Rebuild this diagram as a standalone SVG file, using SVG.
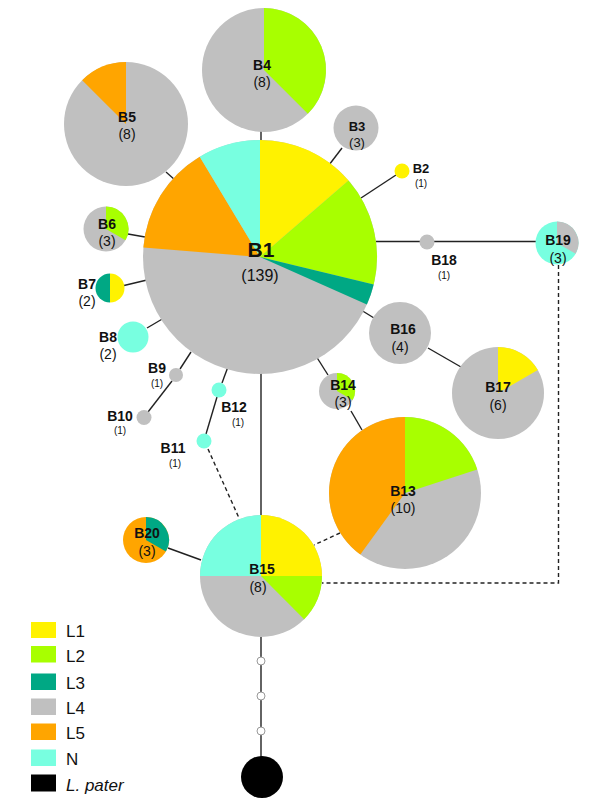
<svg xmlns="http://www.w3.org/2000/svg" width="600" height="803" viewBox="0 0 600 803">
<style>
.y{fill:#FFF200}.g{fill:#A8FF00}.t{fill:#00A884}.s{fill:#C0C0C0}.o{fill:#FFA500}.c{fill:#78FFE0}.k{fill:#000}
.ln{stroke:#222;stroke-width:1.4;fill:none}
.ds{stroke:#222;stroke-width:1.4;fill:none;stroke-dasharray:4,3}
text{font-family:"Liberation Sans",Arial,sans-serif;fill:#111;text-anchor:middle}
.n{font-weight:bold;font-size:14px}
.m{font-size:14px}
.sm{font-size:10px}
.lg{font-size:17px;text-anchor:start}
</style>
<rect width="600" height="803" fill="#fff"/>
<g id="connectors">
<line class="ln" x1="261" y1="131" x2="261" y2="141"/>
<line class="ln" x1="166" y1="172" x2="175" y2="180"/>
<line class="ln" x1="342" y1="148" x2="329" y2="165"/>
<line class="ln" x1="396" y1="175" x2="361" y2="198"/>
<line class="ln" x1="376" y1="241.5" x2="536" y2="241.5"/>
<line class="ln" x1="128" y1="234" x2="145" y2="237"/>
<line class="ln" x1="124" y1="285.5" x2="147" y2="280"/>
<line class="ln" x1="147" y1="328" x2="164" y2="318"/>
<line class="ln" x1="191" y1="352" x2="180" y2="369"/>
<line class="ln" x1="172" y1="381" x2="148" y2="412"/>
<line class="ln" x1="229" y1="364" x2="222" y2="383"/>
<line class="ln" x1="217" y1="397" x2="206" y2="434"/>
<line class="ln" x1="316" y1="356" x2="328" y2="375"/>
<line class="ln" x1="351" y1="411" x2="362" y2="430"/>
<line class="ln" x1="361" y1="310" x2="374" y2="318"/>
<line class="ln" x1="428" y1="348" x2="461" y2="367"/>
<line class="ln" x1="261" y1="373" x2="261" y2="515"/>
<line class="ln" x1="168" y1="548" x2="201" y2="560"/>
<line class="ln" x1="261" y1="637" x2="261" y2="757"/>
<line class="ds" x1="208" y1="449" x2="239" y2="518"/>
<line class="ds" x1="340" y1="533" x2="314" y2="545"/>
<polyline class="ds" points="558.5,265 558.5,583 322,583"/>
</g>
<g id="B1">
<circle class="s" cx="260" cy="257" r="117"/>
<path class="y" d="M260,257 L260,140 A117,117 0 0 1 348.57,180.55 Z"/>
<path class="g" d="M260,257 L348.57,180.55 A117,117 0 0 1 373.72,284.51 Z"/>
<path class="t" d="M260,257 L373.72,284.51 A117,117 0 0 1 366.88,304.58 Z"/>
<path class="o" d="M260,257 L143.38,247.62 A117,117 0 0 1 199.74,156.71 Z"/>
<path class="c" d="M260,257 L199.74,156.71 A117,117 0 0 1 260,140 Z"/>
<text x="261" y="257" style="font-weight:bold;font-size:21px">B1</text>
<text x="260" y="281" style="font-size:16px">(139)</text>
</g>
<g id="B2">
<circle class="y" cx="402" cy="171" r="7.5"/>
<text class="n" x="421" y="172.5" style="font-size:13px">B2</text>
<text class="sm" x="421" y="187">(1)</text>
</g>
<g id="B3">
<circle class="s" cx="356" cy="128" r="22.5"/>
<text class="n" x="357" y="131" style="font-size:13px">B3</text>
<text class="m" x="357" y="147" style="font-size:13px">(3)</text>
</g>
<g id="B4">
<circle class="s" cx="264" cy="70" r="62"/>
<path class="g" d="M264,70 L264,8 A62,62 0 0 1 307.84,113.84 Z"/>
<text class="n" x="262" y="70">B4</text>
<text class="m" x="262" y="87">(8)</text>
</g>
<g id="B5">
<circle class="s" cx="126" cy="124" r="62"/>
<path class="o" d="M126,124 L82.16,80.16 A62,62 0 0 1 126,62 Z"/>
<text class="n" x="127" y="122">B5</text>
<text class="m" x="127" y="139">(8)</text>
</g>
<g id="B6">
<circle class="s" cx="106" cy="229" r="22.5"/>
<path class="g" d="M106,229 L106,206.5 A22.5,22.5 0 0 1 125.49,240.25 Z"/>
<text class="n" x="107" y="229">B6</text>
<text class="m" x="107" y="246">(3)</text>
</g>
<g id="B7">
<path class="t" d="M110,273.5 A14.5,14.5 0 0 0 110,302.5 Z"/>
<path class="y" d="M110,273.5 A14.5,14.5 0 0 1 110,302.5 Z"/>
<text class="n" x="87" y="289">B7</text>
<text class="m" x="87" y="306">(2)</text>
</g>
<g id="B8">
<circle class="c" cx="133" cy="337" r="15.5"/>
<text class="n" x="108" y="341.5">B8</text>
<text class="m" x="108" y="358.5">(2)</text>
</g>
<g id="B9">
<circle class="s" cx="176" cy="375" r="7"/>
<text class="n" x="157" y="372.5">B9</text>
<text class="sm" x="157" y="387">(1)</text>
</g>
<g id="B10">
<circle class="s" cx="144" cy="417.5" r="7.5"/>
<text class="n" x="120" y="421">B10</text>
<text class="sm" x="120" y="434">(1)</text>
</g>
<g id="B11">
<circle class="c" cx="204" cy="441" r="7.5"/>
<text class="n" x="173" y="453">B11</text>
<text class="sm" x="175" y="467">(1)</text>
</g>
<g id="B12">
<circle class="c" cx="219" cy="390" r="7.5"/>
<text class="n" x="234" y="411.5">B12</text>
<text class="sm" x="238" y="426">(1)</text>
</g>
<g id="B13">
<circle class="s" cx="405" cy="493" r="76"/>
<path class="g" d="M405,493 L405,417 A76,76 0 0 1 477.28,469.52 Z"/>
<path class="o" d="M405,493 L360.33,554.48 A76,76 0 0 1 405,417 Z"/>
<text class="n" x="403" y="495.5">B13</text>
<text class="m" x="403" y="512.5">(10)</text>
</g>
<g id="B14">
<circle class="s" cx="337" cy="391" r="18"/>
<path class="g" d="M337,391 L337,373 A18,18 0 0 1 352.59,400 Z"/>
<text class="n" x="343" y="390">B14</text>
<text class="m" x="343" y="407">(3)</text>
</g>
<g id="B15">
<circle class="s" cx="261" cy="576" r="61"/>
<path class="y" d="M261,576 L261,515 A61,61 0 0 1 322,576 Z"/>
<path class="g" d="M261,576 L322,576 A61,61 0 0 1 304.13,619.13 Z"/>
<path class="c" d="M261,576 L200,576 A61,61 0 0 1 261,515 Z"/>
<text class="n" x="262" y="574">B15</text>
<text class="m" x="258" y="591.5">(8)</text>
</g>
<g id="B16">
<circle class="s" cx="400" cy="333" r="31"/>
<text class="n" x="403" y="334">B16</text>
<text class="m" x="400" y="351.5">(4)</text>
</g>
<g id="B17">
<circle class="s" cx="498" cy="393" r="46"/>
<path class="y" d="M498,393 L498,347 A46,46 0 0 1 537.84,370 Z"/>
<text class="n" x="498" y="392">B17</text>
<text class="m" x="498" y="409.5">(6)</text>
</g>
<g id="B18">
<circle class="s" cx="427" cy="242" r="7.5"/>
<text class="n" x="444" y="265">B18</text>
<text class="sm" x="444" y="279">(1)</text>
</g>
<g id="B19">
<circle class="c" cx="557" cy="243" r="21.5"/>
<path class="s" d="M557,243 L557,221.5 A21.5,21.5 0 0 1 575.62,253.75 Z"/>
<text class="n" x="558" y="245">B19</text>
<text class="m" x="558" y="263">(3)</text>
</g>
<g id="B20">
<circle class="o" cx="146" cy="540" r="23"/>
<path class="t" d="M146,540 L146,517 A23,23 0 0 1 165.92,551.5 Z"/>
<text class="n" x="147" y="538">B20</text>
<text class="m" x="147" y="555.5">(3)</text>
</g>
<g id="mv">
<circle cx="261" cy="661" r="4" fill="#fff" stroke="#999" stroke-width="1"/>
<circle cx="261" cy="696" r="4" fill="#fff" stroke="#999" stroke-width="1"/>
<circle cx="261" cy="731" r="4" fill="#fff" stroke="#999" stroke-width="1"/>
</g>
<g id="Lpater">
<circle class="k" cx="262" cy="777" r="21"/>
</g>
<g id="legend">
<rect class="y" x="31" y="622" width="25" height="16"/>
<rect class="g" x="31" y="646" width="25" height="16.5"/>
<rect class="t" x="31" y="673.5" width="25" height="16.5"/>
<rect class="s" x="31" y="698.5" width="25" height="16.5"/>
<rect class="o" x="31" y="723.5" width="25" height="16.5"/>
<rect class="c" x="31" y="749.5" width="25" height="16.5"/>
<rect class="k" x="31" y="774.5" width="25" height="17"/>
<text class="lg" x="66" y="637">L1</text>
<text class="lg" x="66" y="661.5">L2</text>
<text class="lg" x="66" y="689">L3</text>
<text class="lg" x="66" y="714">L4</text>
<text class="lg" x="66" y="739">L5</text>
<text class="lg" x="66" y="765">N</text>
<text class="lg" x="66" y="791" style="font-style:italic">L. pater</text>
</g>
</svg>
